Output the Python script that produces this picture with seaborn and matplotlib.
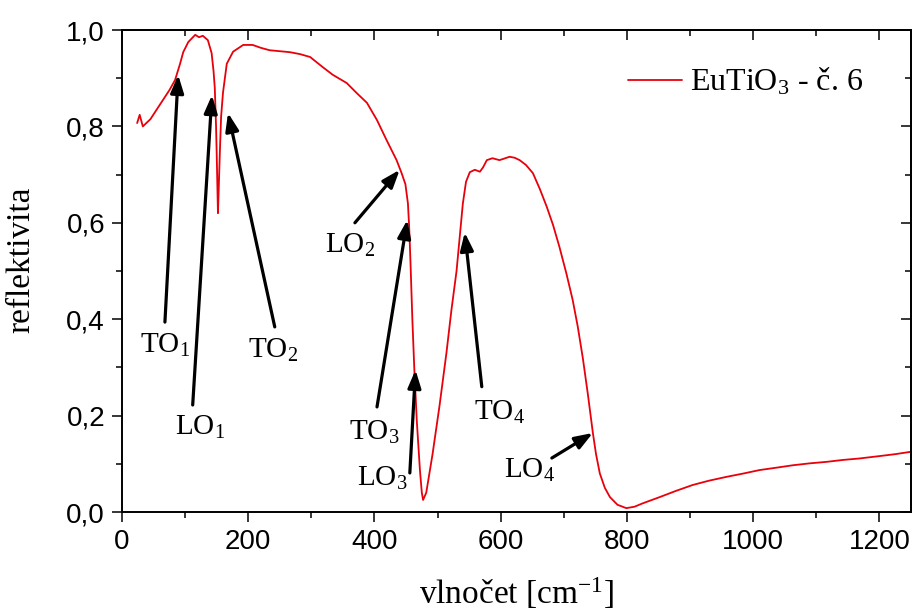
import matplotlib
matplotlib.use("Agg")
import matplotlib.pyplot as plt
import seaborn as sns
import pandas as pd
from matplotlib.ticker import MultipleLocator, FuncFormatter

# ---- data ----
wavenumber = [24, 28, 33, 45, 55, 65, 75, 84, 92, 97, 105, 116, 122, 128, 136, 142, 145, 147,
              149, 150, 152, 153, 155, 157, 160, 166, 176, 192, 207, 220, 234, 250, 266, 282,
              298, 318, 334, 356, 372, 388, 404, 419, 435, 443, 449, 453, 455, 457, 460, 463,
              467, 472, 475, 477, 482, 492, 503, 514, 522, 530, 535, 540, 545, 551, 559, 567,
              572, 578, 587, 598, 605, 614, 622, 630, 640, 651, 662, 673, 683, 693, 704, 714,
              722, 730, 738, 746, 751, 757, 765, 773, 785, 799, 812, 825, 852, 878, 904, 930,
              958, 985, 1010, 1037, 1063, 1090, 1116, 1142, 1168, 1200, 1225, 1250]
reflectivity = [0.807, 0.824, 0.800, 0.815, 0.835, 0.855, 0.875, 0.896, 0.930, 0.954, 0.975,
                0.990, 0.985, 0.988, 0.979, 0.952, 0.915, 0.880, 0.800, 0.745, 0.620, 0.660,
                0.745, 0.820, 0.870, 0.930, 0.955, 0.969, 0.969, 0.963, 0.958, 0.956, 0.954,
                0.950, 0.944, 0.923, 0.907, 0.890, 0.869, 0.849, 0.813, 0.772, 0.730, 0.703,
                0.680, 0.640, 0.590, 0.520, 0.400, 0.300, 0.190, 0.087, 0.040, 0.025, 0.040,
                0.120, 0.220, 0.330, 0.420, 0.500, 0.570, 0.640, 0.685, 0.705, 0.710, 0.706,
                0.715, 0.730, 0.734, 0.730, 0.733, 0.737, 0.735, 0.730, 0.720, 0.703, 0.670,
                0.633, 0.595, 0.550, 0.495, 0.440, 0.385, 0.320, 0.245, 0.164, 0.120, 0.080,
                0.050, 0.031, 0.015, 0.008, 0.011, 0.018, 0.031, 0.044, 0.056, 0.065, 0.073,
                0.080, 0.087, 0.092, 0.097, 0.101, 0.104, 0.108, 0.111, 0.116, 0.120, 0.125]
series_label = "EuTiO$_3$ - č. 6"

# annotation labels: text, label position, arrow tail, arrow tip (data coords)
mode_labels = ["TO$_1$", "LO$_1$", "TO$_2$", "LO$_2$", "TO$_3$", "LO$_3$", "TO$_4$", "LO$_4$"]
label_pos = [(68, 0.346), (123, 0.176), (239, 0.336), (361, 0.554),
             (400, 0.166), (412, 0.070), (598, 0.207), (646, 0.087)]
arrow_tail = [(68, 0.394), (112, 0.222), (242, 0.384), (369, 0.600),
              (404, 0.218), (456, 0.081), (570, 0.260), (681, 0.112)]
arrow_tip = [(89, 0.907), (142.5, 0.865), (168, 0.828), (440, 0.710),
             (452, 0.606), (465, 0.295), (543, 0.580), (746, 0.164)]

x_ticks = [0, 200, 400, 600, 800, 1000, 1200]
y_ticks = [0.0, 0.2, 0.4, 0.6, 0.8, 1.0]

# ---- style ----
sns.set_theme(style="ticks")
plt.rcParams["font.family"] = ["Liberation Serif", "DejaVu Serif"]
plt.rcParams["mathtext.fontset"] = "custom"
plt.rcParams["mathtext.rm"] = "Liberation Serif"
plt.rcParams["mathtext.it"] = "Liberation Serif:italic"
plt.rcParams["mathtext.bf"] = "Liberation Serif:bold"
plt.rcParams["text.color"] = "black"
plt.rcParams["axes.labelcolor"] = "black"
plt.rcParams["xtick.color"] = "black"
plt.rcParams["ytick.color"] = "black"
plt.rcParams["xtick.labelcolor"] = "black"
plt.rcParams["ytick.labelcolor"] = "black"

fig = plt.figure(figsize=(9.15, 6.10), dpi=100)
ax = fig.add_axes([122 / 915, 98 / 610, 789 / 915, 482 / 610])

df = pd.DataFrame({"x": wavenumber, "y": reflectivity})
sns.lineplot(data=df, x="x", y="y", ax=ax, color="#e8000b", lw=1.3,
             label=series_label, estimator=None, sort=False)

ax.set_xlim(0, 1250)
ax.set_ylim(0, 1.0)
ax.set_xticks(x_ticks)
ax.set_yticks(y_ticks)
ax.xaxis.set_minor_locator(MultipleLocator(100))
ax.yaxis.set_minor_locator(MultipleLocator(0.1))
ax.yaxis.set_major_formatter(FuncFormatter(lambda v, p: f"{v:.1f}".replace(".", ",")))

ax.tick_params(which="major", direction="out", length=7.2, width=1.1, colors="black",
               labelsize=20, pad=5)
ax.tick_params(which="minor", direction="out", length=4.3, width=1.1, colors="black")
for s in ax.spines.values():
    s.set_linewidth(1.4)
    s.set_color("black")

# mirrored inward ticks on top and right
secx = ax.secondary_xaxis("top")
secx.set_xticks(x_ticks)
secx.xaxis.set_minor_locator(MultipleLocator(100))
secx.tick_params(which="major", direction="in", length=7.2, width=1.1, labeltop=False, colors="black")
secx.tick_params(which="minor", direction="in", length=4.3, width=1.1, colors="black")
secx.spines["top"].set_linewidth(1.4)
secy = ax.secondary_yaxis("right")
secy.set_yticks(y_ticks)
secy.yaxis.set_minor_locator(MultipleLocator(0.1))
secy.tick_params(which="major", direction="in", length=7.2, width=1.1, labelright=False, colors="black")
secy.tick_params(which="minor", direction="in", length=4.3, width=1.1, colors="black")
secy.spines["right"].set_linewidth(1.4)

for lab in ax.get_xticklabels() + ax.get_yticklabels():
    lab.set_fontfamily("Liberation Sans")
    lab.set_color("black")

ax.set_xlabel("vlnočet [cm$^{-1}$]", fontsize=24, color="black")
ax.set_ylabel("reflektivita", fontsize=24, color="black")
ax.xaxis.set_label_coords(0.5, -0.132)
ax.yaxis.set_label_coords(-0.108, 0.523)

# arrows and labels
for txt, lp, tail, tip in zip(mode_labels, label_pos, arrow_tail, arrow_tip):
    ax.annotate("", xy=tip, xytext=tail, xycoords="data", textcoords="data",
                arrowprops=dict(arrowstyle="-|>,head_length=0.6,head_width=0.22",
                                lw=2.3, color="black", mutation_scale=18,
                                shrinkA=0, shrinkB=0))
    ax.text(lp[0], lp[1], txt, fontsize=21, ha="center", va="center", color="black")

leg = ax.legend(loc="center left", bbox_to_anchor=(628 / 915, 1 - 82 / 610),
                bbox_transform=fig.transFigure, frameon=False, fontsize=23,
                handlelength=1.7, handletextpad=0.25, borderpad=0, borderaxespad=0)
for t in leg.get_texts():
    t.set_color("black")

fig.savefig("out.png", dpi=100)
